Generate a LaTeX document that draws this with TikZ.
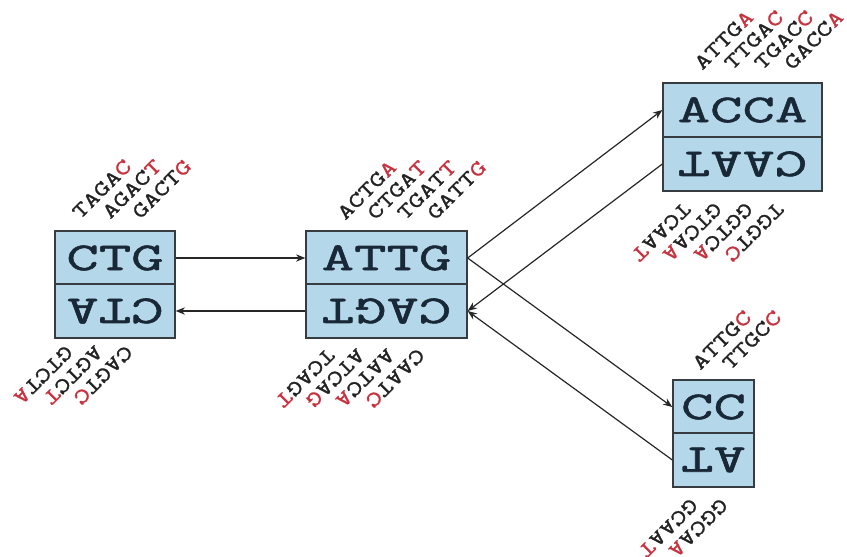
\documentclass[tikz,border=0pt]{standalone}
\usepackage{fontspec}
\usetikzlibrary{arrows.meta}
\newfontfamily\boxfont[FakeStretch=1.6,FakeBold=1.5]{Latin Modern Mono}
\newfontfamily\labfont[FakeStretch=1.35,FakeBold=1.2]{Latin Modern Mono}
\definecolor{boxfill}{RGB}{180,215,234}
\definecolor{boxline}{RGB}{55,60,65}
\definecolor{boxtext}{RGB}{25,40,55}
\definecolor{lred}{RGB}{200,50,62}
\definecolor{labtext}{RGB}{35,35,35}
\newcommand\rd[1]{\textcolor{lred}{#1}}
\newcommand\flip[1]{\rotatebox[origin=c]{180}{#1}}
\tikzset{
  half/.style={draw=boxline, fill=boxfill, line width=1pt, inner sep=0pt,
    minimum height=40.5pt, text=boxtext,
    font=\boxfont\fontsize{29.5pt}{29.5pt}\selectfont},
  uplab/.style={rotate=45, anchor=base west, inner sep=0pt, text=labtext,
    font=\labfont\fontsize{16pt}{16pt}\selectfont},
  dnlab/.style={rotate=225, anchor=base west, inner sep=0pt, text=labtext,
    font=\labfont\fontsize{16pt}{16pt}\selectfont},
  conn/.style={line width=0.9pt, draw=black!85, -{Stealth[length=7pt,width=5.5pt]}}
}
\begin{document}
\begin{tikzpicture}[x=0.75pt,y=-0.75pt]
\useasboundingbox (0,0) rectangle (847,557);
% boxes
\node[half, minimum width=90pt] (ctg) at (115,258) {CTG};
\node[half, minimum width=90pt] (cta) at (115,311) {\flip{CTA}};
\node[half, minimum width=120.75pt] (attg) at (386.5,258) {ATTG};
\node[half, minimum width=120.75pt] (cagt) at (386.5,311) {\flip{CAGT}};
\node[half, minimum width=119.25pt] (acca) at (742.5,110) {ACCA};
\node[half, minimum width=119.25pt] (cat) at (742.5,164) {\flip{CAAT}};
\node[half, minimum width=60.75pt] (cc) at (713.5,407) {CC};
\node[half, minimum width=60.75pt] (at) at (713.5,460) {\flip{AT}};
% connectors
\draw[conn] (ctg.east) -- (attg.west);
\draw[conn] (cagt.west) -- (cta.east);
\draw[conn] (attg.east) -- (acca.west);
\draw[conn] (cat.west) -- (cagt.east);
\draw[conn] (attg.east) -- (cc.west);
\draw[conn] (at.west) -- (cagt.east);
% labels left box
\node[uplab] (l1) at (80,220) {TAGA\rd{C}};
\node[uplab] (l2) at (110,220) {AGAC\rd{T}};
\node[uplab] (l3) at (140,220) {GACT\rd{G}};
\node[dnlab] (l4) at (65,344) {GTCT\rd{A}};
\node[dnlab] (l5) at (95,344) {AGTC\rd{T}};
\node[dnlab] (l6) at (125,344) {CAGT\rd{C}};
% labels middle box
\node[uplab] (m1) at (345,221) {ACTG\rd{A}};
\node[uplab] (m2) at (375,221) {CTGA\rd{T}};
\node[uplab] (m3) at (405,221) {TGAT\rd{T}};
\node[uplab] (m4) at (435,221) {GATT\rd{G}};
\node[dnlab] (m5) at (327,347) {TCAG\rd{T}};
\node[dnlab] (m6) at (357,347) {ATCA\rd{G}};
\node[dnlab] (m7) at (387,347) {AATC\rd{A}};
\node[dnlab] (m8) at (417,347) {CAAT\rd{C}};
% labels top-right box
\node[uplab] (t1) at (702,71) {ATTG\rd{A}};
\node[uplab] (t2) at (732,71) {TTGA\rd{C}};
\node[uplab] (t3) at (762,71) {TGAC\rd{C}};
\node[uplab] (t4) at (792,71) {GACC\rd{A}};
\node[dnlab] (t5) at (683,201) {TCAA\rd{T}};
\node[dnlab] (t6) at (714,201) {GTCA\rd{A}};
\node[dnlab] (t7) at (745,201) {GGTC\rd{A}};
\node[dnlab] (t8) at (776,201) {TGGT\rd{C}};
% labels bottom-right box
\node[uplab] (b1) at (700,371) {ATTG\rd{C}};
\node[uplab] (b2) at (730,371) {TTGC\rd{C}};
\node[dnlab] (b3) at (690,497) {GCAA\rd{T}};
\node[dnlab] (b4) at (720,497) {GGCA\rd{A}};
\end{tikzpicture}
\end{document}
